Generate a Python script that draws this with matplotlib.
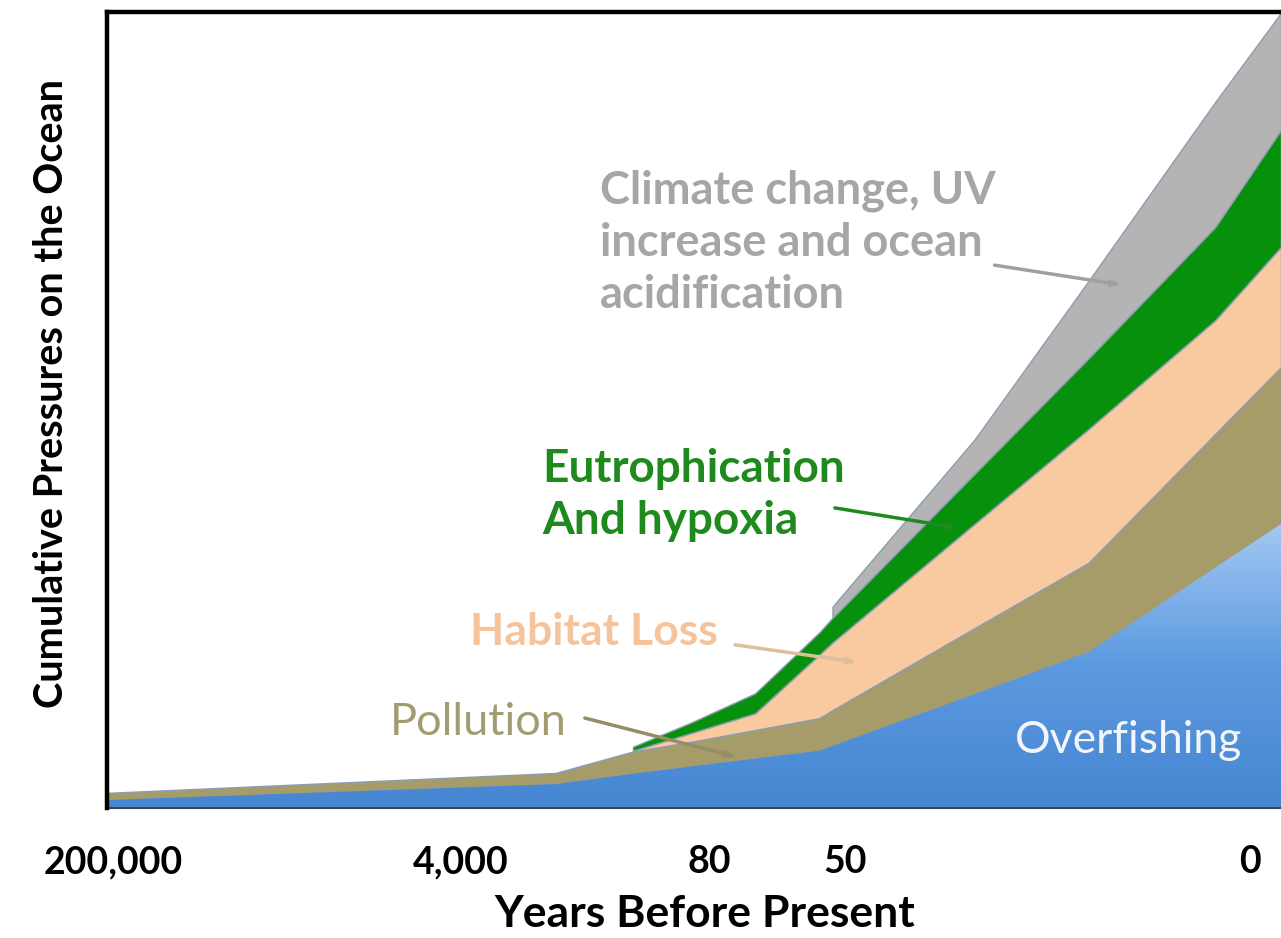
#importing the relevant modules
import numpy as np
import matplotlib.pyplot as plt
from matplotlib.colors import LinearSegmentedColormap

#position along the timeline (0 = left edge, 100 = right edge)
x = [0, 38.2, 44.8, 49.7, 55.2, 60.7, 61.8, 73.9, 83.6, 94.4, 100]

#thickness of each pressure band at every timeline point (nan = not there yet)
nan = np.nan
overfishing = [1.0, 3.0, 4.3, 5.2, 6.2, 7.2, 7.8, 14.3, 19.6, 30.2, 35.7]
pollution = [0.9, 1.4, 2.8, 3.1, 3.6, 4.1, 4.5, 8.3, 11.2, 16.8, 19.7]
habitat = [nan, nan, 0.1, 1.1, 2.1, 8.0, 8.5, 13.1, 16.8, 14.3, 15.1]
eutrophication = [nan, nan, 0.5, 1.3, 2.5, 2.8, 3.1, 6.3, 8.9, 11.7, 14.7]
climate = [nan, nan, nan, nan, nan, nan, 1.4, 4.3, 9.7, 15.7, 14.7]

#tick labels on the time axis and where they sit
tick_pos = [0.5, 30.1, 51.3, 62.9, 97.4]
tick_labels = ["200,000", "4,000", "80", "50", "0"]

font = ["Lato", "DejaVu Sans"]

fig = plt.figure(figsize=(12.81, 9.38), dpi=100)
ax = fig.add_axes([0.0835, 0.1386, 0.9165, 0.8486])

#stack the bands on top of each other
layers = [overfishing, pollution, habitat, eutrophication, climate]
colors = ["#4a8ed8", "#a59c6a", "#f9c9a0", "#07900c", "#b4b4b4"]
xs = np.array(x)
base = np.zeros(len(x))
polys = []
for vals, c in zip(layers, colors):
    v = np.array(vals, dtype=float)
    top = base + v
    p = ax.fill_between(xs, base, top, color=c, edgecolor="#8c9db2", linewidth=1, zorder=2)
    polys.append(p)
    base = base + np.nan_to_num(v)

#blue gradient for overfishing (light at the top, darker at the bottom)
cmap = LinearSegmentedColormap.from_list("ocean", ["#4686d2", "#5d9be0", "#a9cbf4"])
grad = np.linspace(0, 1, 256).reshape(-1, 1)
img = ax.imshow(grad, cmap=cmap, origin="lower", aspect="auto",
                extent=[0, 100, 0, 37], zorder=2.5)
img.set_clip_path(polys[0].get_paths()[0], transform=ax.transData)

#limits of the axis
ax.set_xlim(0, 100)
ax.set_ylim(0, 100)

#frame: thick black left and top, nothing on the right
ax.spines["left"].set_linewidth(3.2)
ax.spines["top"].set_linewidth(3.2)
ax.spines["right"].set_visible(False)
ax.spines["bottom"].set_color("#3c4450")
ax.spines["bottom"].set_linewidth(1.5)
ax.spines["left"].set_zorder(5)

ax.set_yticks([])
ax.set_xticks(tick_pos)
ax.set_xticklabels(tick_labels, fontsize=27, fontweight="bold", family=font)
ax.tick_params(axis="x", length=0, pad=27)

#label the axis
ax.set_xlabel("Years Before Present", fontsize=32, fontweight="bold", family=font)
ax.xaxis.set_label_coords(0.509, -0.133)
ax.xaxis.label.set_va("center")
ax.set_ylabel("Cumulative Pressures on the Ocean", fontsize=28.5, fontweight="bold", family=font)
ax.yaxis.set_label_coords(-0.0475, 0.521)
ax.yaxis.label.set_va("center")

#small pointers from each label to its band
arrows = [((75.6, 68.2), (86.5, 65.7), "#a0a0a0"),
          ((62.0, 37.7), (72.5, 35.2), "#1f8a1f"),
          ((53.5, 20.5), (64.0, 18.3), "#dcbf9c"),
          ((40.7, 11.3), (53.7, 6.4), "#958e64")]
for start, end, c in arrows:
    ax.annotate("", xy=end, xytext=start,
                arrowprops=dict(arrowstyle="-|>,head_length=0.5,head_width=0.15", color=c, lw=2.5,
                                shrinkA=0, shrinkB=0), zorder=6)

#labels for each band
ax.text(42.0, 71.0, "Climate change, UV\nincrease and ocean\nacidification", color="#a6a6a6",
        fontsize=32.5, fontweight="bold", family=font, va="center", ha="left",
        linespacing=1.3, zorder=6)
ax.text(37.05, 39.3, "Eutrophication\nAnd hypoxia", color="#1e8a1e", fontsize=33, fontweight="bold",
        family=font, va="center", ha="left", linespacing=1.3, zorder=6)
ax.text(30.9, 22.1, "Habitat Loss", color="#f5c49c", fontsize=32, fontweight="bold",
        family=font, va="center", ha="left", zorder=6)
ax.text(24.1, 10.7, "Pollution", color="#a39c72", fontsize=32.5,
        family=font, va="center", ha="left", zorder=6)
ax.text(77.3, 8.5, "Overfishing", color="#f2f6fb", fontsize=32,
        family=font, va="center", ha="left", zorder=6)

#save the plot
fig.savefig("out.png", dpi=100)
